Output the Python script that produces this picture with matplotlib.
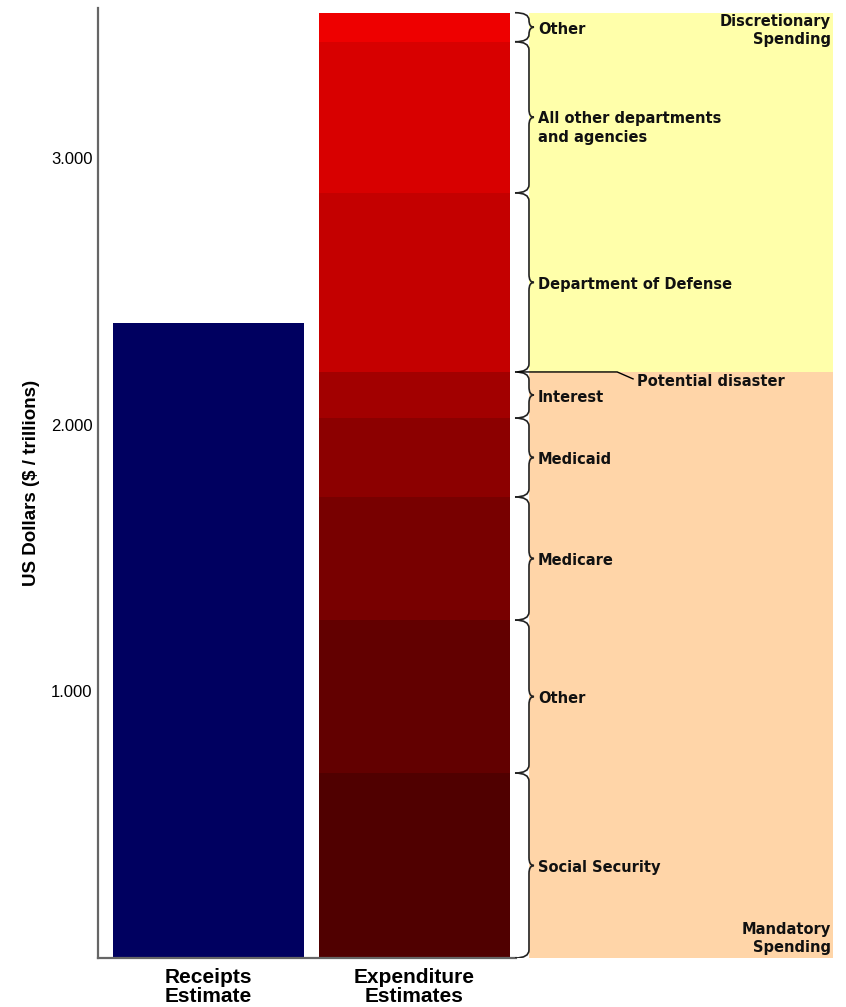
import matplotlib
matplotlib.use("Agg")
import matplotlib.pyplot as plt
import matplotlib.patches as mpatches
from matplotlib.path import Path

# data (trillions of US dollars)
categories = ["Receipts\nEstimate", "Expenditure\nEstimates"]
receipts = 2.383
exp_labels = ["Social Security", "Other", "Medicare", "Medicaid", "Interest",
              "Department of Defense", "All other departments\nand agencies", "Other"]
exp_values = [0.694, 0.574, 0.462, 0.296, 0.173, 0.672, 0.567, 0.109]
exp_colors = ["#500000", "#620000", "#780000", "#8c0000", "#a20000",
              "#c40000", "#d80000", "#ee0000"]
n_mandatory = 5
yticks = [1, 2, 3]
ytick_labels = ["1.000", "2.000", "3.000"]

# layout (x in bar units, bar centres at 0 and 1)
XMIN, XMAX = -0.5364, 3.0316
BAR_W = 0.932
SPINE_END = 1.4927
BR_END, BR_BODY, BR_TIP = 1.4879, 1.5558, 1.5801
ZONE_X0 = 1.5558
TEXT_X = 1.5995
YMAX = 3.5647
DY = 0.009  # small downward nudge for labels

TXT = dict(family="DejaVu Sans", fontweight="bold", fontsize=10.5, color="#111111")


def brace(ax, y0, y1, r=0.03):
    ym = (y0 + y1) / 2
    r = min(r, (y1 - y0) / 4)
    verts = [(BR_END, y0), (BR_BODY, y0), (BR_BODY, y0 + r), (BR_BODY, ym - r),
             (BR_BODY, ym), (BR_TIP, ym), (BR_BODY, ym), (BR_BODY, ym + r),
             (BR_BODY, y1 - r), (BR_BODY, y1), (BR_END, y1)]
    codes = [Path.MOVETO, Path.CURVE3, Path.CURVE3, Path.LINETO, Path.CURVE3,
             Path.CURVE3, Path.CURVE3, Path.CURVE3, Path.LINETO, Path.CURVE3,
             Path.CURVE3]
    ax.add_patch(mpatches.PathPatch(Path(verts, codes), fill=False,
                                    edgecolor="#222222", lw=1.2, zorder=4))


def main():
    fig = plt.figure(figsize=(8.46, 10.07), dpi=100)
    ax = fig.add_axes([98 / 846, 49 / 1007, 735 / 846, 950 / 1007])
    ax.set_xlim(XMIN, XMAX)
    ax.set_ylim(0, YMAX)

    total = sum(exp_values)
    split = sum(exp_values[:n_mandatory])

    # spending zones
    ax.fill_between([ZONE_X0, XMAX], 0, split, color="#ffd5a8", lw=0, zorder=0)
    ax.fill_between([ZONE_X0, XMAX], split, total, color="#ffffaa", lw=0, zorder=0)

    ax.bar(0, receipts, width=BAR_W, color="#000060", zorder=2)
    bottom = 0
    for lab, val, col in zip(exp_labels, exp_values, exp_colors):
        ax.bar(1, val, width=BAR_W, bottom=bottom, color=col, zorder=2)
        brace(ax, bottom, bottom + val)
        mid = bottom + val / 2 - DY
        if "\n" in lab:
            ax.text(TEXT_X, mid + 0.033, lab, va="top", ha="left",
                    linespacing=1.3, zorder=5, **TXT)
        else:
            ax.text(TEXT_X, mid, lab, va="center", ha="left", zorder=5, **TXT)
        bottom += val

    # potential disaster leader
    ax.plot([1.5025, 1.984, 2.061], [split, split, split - 0.026],
            color="black", lw=1.0, zorder=5)
    ax.text(2.080, split - 0.026 - DY, "Potential disaster", va="center", ha="left",
            zorder=5, **TXT)

    ax.text(3.022, total - 0.005, "Discretionary\nSpending", va="top", ha="right",
            linespacing=1.25, **TXT)
    ax.text(3.022, 0.012, "Mandatory\nSpending", va="bottom", ha="right",
            linespacing=1.25, **TXT)

    for s in ["top", "right"]:
        ax.spines[s].set_visible(False)
    for s in ["left", "bottom"]:
        ax.spines[s].set_color("#666666")
        ax.spines[s].set_linewidth(1.6)
    ax.spines["bottom"].set_bounds(XMIN, SPINE_END)

    ax.set_yticks(yticks)
    ax.set_yticklabels(ytick_labels, family="Liberation Sans", fontsize=12)
    ax.tick_params(axis="y", length=0, pad=4)
    ax.set_xticks([0, 1])
    ax.set_xticklabels(categories, family="Liberation Sans", fontweight="bold",
                       fontsize=15, linespacing=1.0)
    ax.tick_params(axis="x", length=0, pad=7)

    fig.text(32 / 846, 1 - 483 / 1007, "US Dollars ($ / trillions)", rotation=90,
             ha="center", va="center", family="Liberation Sans",
             fontweight="bold", fontsize=13.5)

    fig.savefig("out.png", dpi=100)


if __name__ == "__main__":
    main()
